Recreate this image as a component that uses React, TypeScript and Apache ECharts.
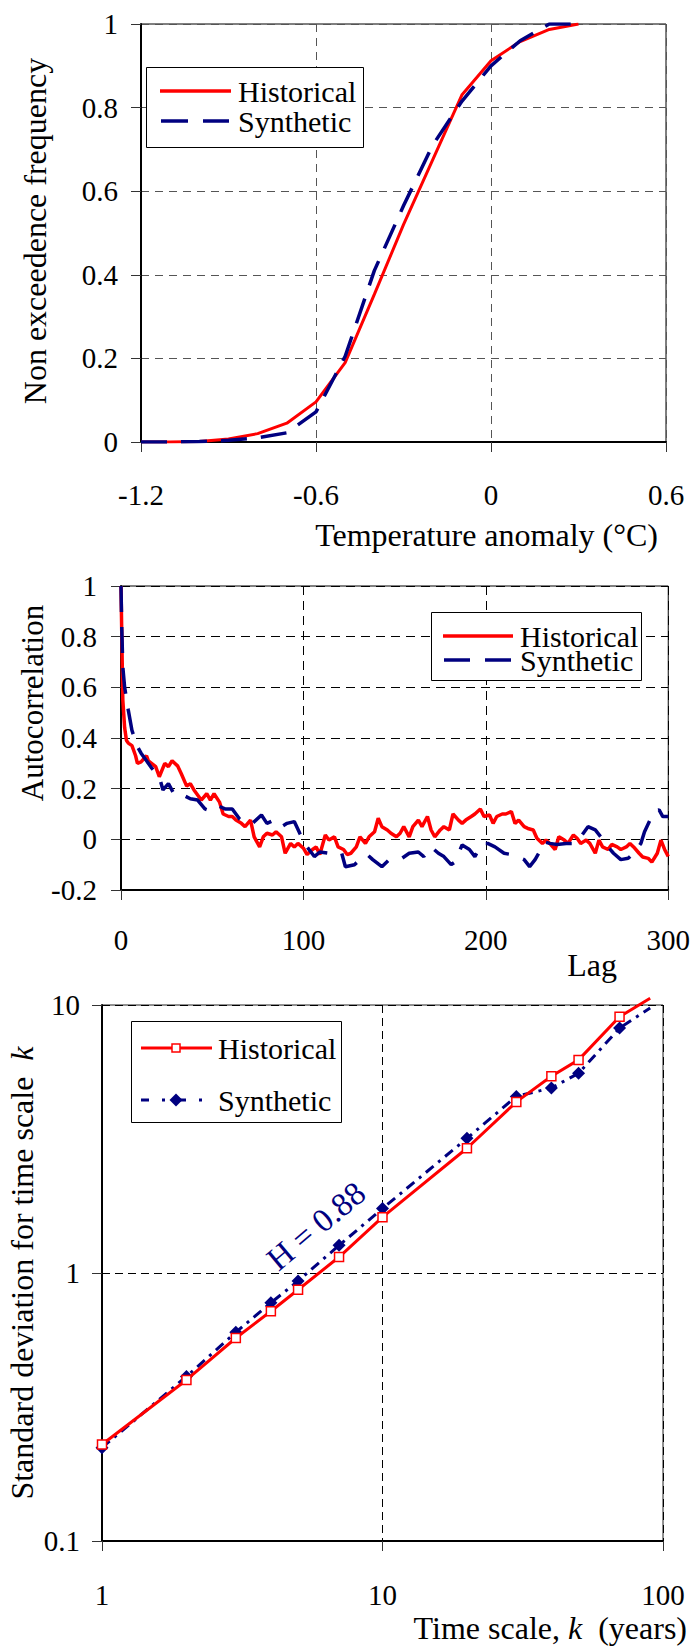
import React, { useEffect, useRef } from 'react';
import * as echarts from 'echarts';

const FONT = 'Liberation Serif';
const RED = '#ff0000';
const NAVY = '#000080';

// ---------- Chart 1: non exceedence frequency ----------
const cdfTemperature = [-1.2, -1.1, -1.0, -0.9, -0.8, -0.7, -0.6, -0.5, -0.4, -0.3, -0.2, -0.1, 0, 0.1, 0.2, 0.3];
const cdfHistorical = [0, 0, 0.001, 0.007, 0.02, 0.045, 0.096, 0.19, 0.353, 0.52, 0.675, 0.83, 0.912, 0.958, 0.987, 1];
const cdfSynthetic = [0, 0, 0.001, 0.004, 0.01, 0.022, 0.072, 0.205, 0.41, 0.565, 0.71, 0.815, 0.9, 0.96, 1, 1];
const cdfXTickValues = [-1.2, -0.6, 0, 0.6];
const cdfXTickLabels = ['-1.2', '-0.6', '0', '0.6'];
const cdfYTickValues = [0, 0.2, 0.4, 0.6, 0.8, 1];
const cdfYTickLabels = ['0', '0.2', '0.4', '0.6', '0.8', '1'];

// ---------- Chart 2: autocorrelation ----------
const acfHistorical: [number, number][] = [
  [0, 1], [1, 0.55], [2, 0.44], [3, 0.39], [4, 0.38], [6, 0.37], [8, 0.33], [9, 0.3], [11, 0.306], [14, 0.33],
  [15, 0.31], [19, 0.287], [21, 0.247], [24, 0.3], [26, 0.287], [28, 0.31], [31, 0.29], [33, 0.26], [36, 0.21],
  [38, 0.22], [40, 0.195], [44, 0.155], [47, 0.18], [49, 0.155], [51, 0.18], [54, 0.147], [56, 0.1], [59, 0.09],
  [61, 0.09], [63, 0.076], [66, 0.063], [68, 0.05], [71, 0.076], [73, 0.01], [76, -0.03], [78, 0.01], [80, 0.024],
  [83, 0.017], [85, 0.03], [88, 0.01], [90, -0.055], [93, -0.016], [95, -0.03], [97, -0.016], [100, -0.035],
  [102, -0.06], [105, -0.04], [107, -0.03], [109, -0.06], [112, 0.017], [114, -0.003], [117, 0.01], [119, -0.03],
  [122, -0.04], [124, -0.06], [126, -0.055], [129, -0.03], [131, 0.01], [134, -0.016], [136, 0.01], [139, 0.03],
  [141, 0.083], [143, 0.05], [146, 0.037], [148, 0.024], [151, 0.01], [153, 0.024], [155, 0.05], [158, 0.01],
  [160, 0.05], [163, 0.076], [165, 0.05], [168, 0.09], [170, 0.037], [172, 0.01], [175, 0.037], [177, 0.05],
  [180, 0.037], [182, 0.1], [185, 0.076], [187, 0.063], [189, 0.076], [192, 0.09], [194, 0.1], [197, 0.12],
  [199, 0.09], [202, 0.096], [204, 0.063], [206, 0.09], [209, 0.1], [211, 0.1], [214, 0.11], [216, 0.063],
  [218, 0.076], [221, 0.05], [223, 0.043], [226, 0.037], [228, 0.004], [231, -0.016], [233, -0.003], [235, -0.016],
  [238, -0.04], [240, 0.01], [243, -0.003], [245, -0.016], [248, 0.017], [250, 0.004], [252, -0.016], [255, -0.003],
  [257, -0.016], [260, -0.055], [262, -0.003], [264, -0.03], [267, -0.04], [269, -0.02], [272, -0.03], [274, -0.04],
  [277, -0.03], [279, -0.016], [281, -0.03], [284, -0.055], [286, -0.07], [289, -0.075], [291, -0.09], [294, -0.055],
  [296, -0.003], [298, -0.04], [300, -0.068],
];
const acfSynthetic: [number, number][] = [
  [0, 1], [0.4, 0.84], [1, 0.68], [2, 0.6], [4, 0.51], [6, 0.43], [9, 0.366], [11, 0.34], [14, 0.31], [17, 0.28],
  [21, 0.247], [23, 0.195], [26, 0.22], [29, 0.18], [32, 0.17], [34, 0.175], [38, 0.16], [42, 0.155], [46, 0.12],
  [50, 0.11], [54, 0.13], [57, 0.12], [61, 0.12], [65, 0.08], [68, 0.063], [72, 0.063], [77, 0.096], [80, 0.063],
  [84, 0.076], [88, 0.05], [91, 0.063], [95, 0.07], [98, 0.024], [102, -0.03], [106, -0.068], [109, -0.05],
  [114, -0.055], [118, -0.06], [121, -0.055], [123, -0.108], [128, -0.1], [131, -0.08], [135, -0.06], [138, -0.08],
  [143, -0.108], [147, -0.08], [151, -0.075], [154, -0.075], [158, -0.055], [163, -0.05], [166, -0.068], [170, -0.03],
  [174, -0.055], [177, -0.068], [181, -0.1], [183, -0.09], [187, -0.022], [191, -0.04], [194, -0.068], [198, -0.016],
  [201, -0.016], [205, -0.03], [210, -0.055], [214, -0.06], [217, -0.068], [221, -0.08], [224, -0.108], [227, -0.08],
  [229, -0.055], [232, -0.01], [235, -0.016], [239, -0.02], [244, -0.016], [249, -0.016], [252, 0.01], [256, 0.05],
  [260, 0.037], [263, 0.01], [267, -0.03], [270, -0.055], [274, -0.08], [278, -0.075], [281, -0.055], [285, -0.016],
  [287, 0.03], [290, 0.076], [292, 0.11], [295, 0.116], [297, 0.09], [300, 0.09],
];
const acfXTickValues = [0, 100, 200, 300];
const acfXTickLabels = ['0', '100', '200', '300'];
const acfYTickValues = [-0.2, 0, 0.2, 0.4, 0.6, 0.8, 1];
const acfYTickLabels = ['-0.2', '0', '0.2', '0.4', '0.6', '0.8', '1'];

// ---------- Chart 3: climacogram ----------
const scaleK = [1, 2, 3, 4, 5, 7, 10, 20, 30, 40, 50, 70, 90];
const sdHistorical = [0.229, 0.399, 0.572, 0.72, 0.866, 1.147, 1.615, 2.92, 4.35, 5.42, 6.24, 9.04, 10.6];
const sdSynthetic = [0.223, 0.411, 0.601, 0.774, 0.934, 1.268, 1.74, 3.18, 4.56, 4.9, 5.56, 8.2, 9.75];
const sdXTickValues = [1, 10, 100];
const sdXTickLabels = ['1', '10', '100'];
const sdYTickValues = [0.1, 1, 10];
const sdYTickLabels = ['0.1', '1', '10'];
const hurstLabel = 'H = 0.88';

const pick = (vals: number[], labels: string[]) => (v: number) => {
  let best = 0;
  for (let i = 1; i < vals.length; i++) {
    if (Math.abs(vals[i] - v) < Math.abs(vals[best] - v)) best = i;
  }
  return labels[best];
};

const axisBase = (gridColor: string, dash: number[], margin: number, labels: (v: number) => string) => ({
  axisLine: { onZero: false, lineStyle: { color: '#000', width: 2 } },
  axisTick: { show: true, length: 10, lineStyle: { color: '#333', width: 1 } },
  axisLabel: { margin, fontSize: 29, fontFamily: FONT, color: '#000', formatter: labels },
  splitLine: { show: true, lineStyle: { type: dash, color: gridColor, width: 1 } },
  minorTick: { show: false },
});

const txt = (x: number, y: number, text: string, extra: any = {}) => ({
  type: 'text',
  x,
  y,
  z: 100,
  rotation: extra.rotation || 0,
  style: {
    text,
    fontFamily: FONT,
    fontSize: extra.fontSize || 30,
    lineHeight: extra.lineHeight,
    fill: extra.fill || '#000',
    align: extra.align || 'left',
    verticalAlign: 'middle',
    rich: extra.rich,
  },
});

const option1: any = {
  animation: false,
  backgroundColor: '#fff',
  grid: { left: 141, top: 24, width: 525, height: 418, show: true, borderColor: '#000', borderWidth: 1 },
  xAxis: {
    type: 'value', min: -1.2, max: 0.6, interval: 0.6,
    ...axisBase('#555', [8, 6], 38, pick(cdfXTickValues, cdfXTickLabels)),
  },
  yAxis: {
    type: 'value', min: 0, max: 1, interval: 0.2,
    ...axisBase('#555', [8, 6], 23, pick(cdfYTickValues, cdfYTickLabels)),
  },
  series: [
    {
      name: 'Historical', type: 'line', symbol: 'none',
      lineStyle: { color: RED, width: 3 },
      data: cdfTemperature.map((t, i) => [t, cdfHistorical[i]]),
    },
    {
      name: 'Synthetic', type: 'line', symbol: 'none',
      lineStyle: { color: NAVY, width: 3.5, type: [26, 14] },
      data: cdfTemperature.map((t, i) => [t, cdfSynthetic[i]]),
    },
  ],
  graphic: [
    { type: 'rect', z: 100, shape: { x: 146.5, y: 67.5, width: 217, height: 80 }, style: { fill: '#fff', stroke: '#000', lineWidth: 1 } },
    { type: 'line', z: 101, shape: { x1: 160, y1: 91, x2: 231, y2: 91 }, style: { stroke: RED, lineWidth: 3.5 } },
    { type: 'line', z: 101, shape: { x1: 161, y1: 121, x2: 229, y2: 121 }, style: { stroke: NAVY, lineWidth: 3.5, lineDash: [27, 15] } },
    txt(238, 91, 'Historical', { fontSize: 30, lineHeight: 28 }),
    txt(238, 121, 'Synthetic', { fontSize: 30, lineHeight: 28 }),
    txt(35, 231, 'Non exceedence frequency', { align: 'center', rotation: Math.PI / 2, fontSize: 32 }),
    txt(658, 535, 'Temperature anomaly (°C)', { align: 'right', fontSize: 32 }),
  ],
};

const option2: any = {
  animation: false,
  backgroundColor: '#fff',
  grid: { left: 121, top: 26, width: 548, height: 304, show: true, borderColor: '#000', borderWidth: 1 },
  xAxis: {
    type: 'value', min: 0, max: 300, interval: 100,
    ...axisBase('#000', [9, 6], 35, pick(acfXTickValues, acfXTickLabels)),
  },
  yAxis: {
    type: 'value', min: -0.2, max: 1, interval: 0.2,
    ...axisBase('#000', [9, 6], 24, pick(acfYTickValues, acfYTickLabels)),
  },
  series: [
    {
      name: 'Historical', type: 'line', symbol: 'none',
      lineStyle: { color: RED, width: 3.5 },
      data: acfHistorical,
    },
    {
      name: 'Synthetic', type: 'line', symbol: 'none',
      lineStyle: { color: NAVY, width: 3.5, type: [26, 15] },
      data: acfSynthetic,
    },
  ],
  graphic: [
    { type: 'rect', z: 100, shape: { x: 431.5, y: 52.5, width: 210, height: 68 }, style: { fill: '#fff', stroke: '#000', lineWidth: 1 } },
    { type: 'line', z: 101, shape: { x1: 443, y1: 76, x2: 513, y2: 76 }, style: { stroke: RED, lineWidth: 3.5 } },
    { type: 'line', z: 101, shape: { x1: 444, y1: 100, x2: 511, y2: 100 }, style: { stroke: NAVY, lineWidth: 3.5, lineDash: [26, 15] } },
    txt(520, 76, 'Historical', { fontSize: 30, lineHeight: 22 }),
    txt(520, 100, 'Synthetic', { fontSize: 30, lineHeight: 22 }),
    txt(32, 143, 'Autocorrelation', { align: 'center', rotation: Math.PI / 2, fontSize: 31 }),
    txt(592, 405, 'Lag', { align: 'center', fontSize: 32 }),
  ],
};

const lastNoSymbol = (vals: number[]) =>
  scaleK.map((k, i) => (i === scaleK.length - 1 ? { value: [k, vals[i]], symbol: 'none' } : [k, vals[i]]));

const option3: any = {
  animation: false,
  backgroundColor: '#fff',
  grid: { left: 102, top: 15, width: 561, height: 536, show: true, borderColor: '#222', borderWidth: 1 },
  xAxis: {
    type: 'log', logBase: 10, min: 1, max: 100,
    ...axisBase('#000', [8, 5], 39, pick(sdXTickValues, sdXTickLabels)),
  },
  yAxis: {
    type: 'log', logBase: 10, min: 0.1, max: 10,
    ...axisBase('#000', [8, 5], 22, pick(sdYTickValues, sdYTickLabels)),
  },
  series: [
    {
      name: 'Historical', type: 'line', clip: false,
      symbol: 'rect', symbolSize: 9,
      itemStyle: { color: '#fff', borderColor: RED, borderWidth: 1.5 },
      lineStyle: { color: RED, width: 3 },
      data: lastNoSymbol(sdHistorical),
      z: 3,
    },
    {
      name: 'Synthetic', type: 'line', clip: false,
      symbol: 'diamond', symbolSize: 13,
      itemStyle: { color: NAVY },
      lineStyle: { color: NAVY, width: 3, type: [10, 6, 3, 6] },
      data: lastNoSymbol(sdSynthetic),
      z: 2,
    },
  ],
  graphic: [
    { type: 'rect', z: 100, shape: { x: 131.5, y: 31.5, width: 210, height: 101 }, style: { fill: '#fff', stroke: '#000', lineWidth: 1 } },
    { type: 'line', z: 101, shape: { x1: 141, y1: 58, x2: 212, y2: 58 }, style: { stroke: RED, lineWidth: 3 } },
    { type: 'rect', z: 102, shape: { x: 172, y: 54, width: 8, height: 8 }, style: { fill: '#fff', stroke: RED, lineWidth: 1.5 } },
    { type: 'line', z: 101, shape: { x1: 141, y1: 110, x2: 212, y2: 110 }, style: { stroke: NAVY, lineWidth: 3, lineDash: [8, 13, 3, 13] } },
    { type: 'polygon', z: 102, shape: { points: [[176, 103.5], [182.5, 110], [176, 116.5], [169.5, 110]] }, style: { fill: NAVY } },
    txt(218, 58, 'Historical', { fontSize: 30 }),
    txt(218, 110, 'Synthetic', { fontSize: 30 }),
    txt(316, 236, hurstLabel, { align: 'center', rotation: (40 * Math.PI) / 180, fontSize: 33, fill: NAVY }),
    txt(22, 283, 'Standard deviation for time scale  {i|k}', {
      align: 'center', rotation: Math.PI / 2, fontSize: 32,
      rich: { i: { fontStyle: 'italic', fontSize: 32, fontFamily: FONT } },
    }),
    txt(687, 638, 'Time scale, {i|k}  (years)', {
      align: 'right', fontSize: 32, lineHeight: 30,
      rich: { i: { fontStyle: 'italic', fontSize: 32, fontFamily: FONT, lineHeight: 30 } },
    }),
  ],
};

const ChartBox = ({ option, top, height }: { option: any; top: number; height: number }) => {
  const ref = useRef<HTMLDivElement>(null);
  useEffect(() => {
    const chart = echarts.init(ref.current as HTMLDivElement, undefined, { renderer: 'svg' });
    chart.setOption(option);
    return () => chart.dispose();
  }, [option]);
  return <div ref={ref} style={{ position: 'absolute', left: 0, top, width: 693, height }} />;
};

export default function App() {
  return (
    <div style={{ position: 'absolute', left: 0, top: 0, width: 693, height: 1649, background: '#fff' }}>
      <ChartBox option={option1} top={0} height={560} />
      <ChartBox option={option2} top={560} height={430} />
      <ChartBox option={option3} top={990} height={659} />
    </div>
  );
}
